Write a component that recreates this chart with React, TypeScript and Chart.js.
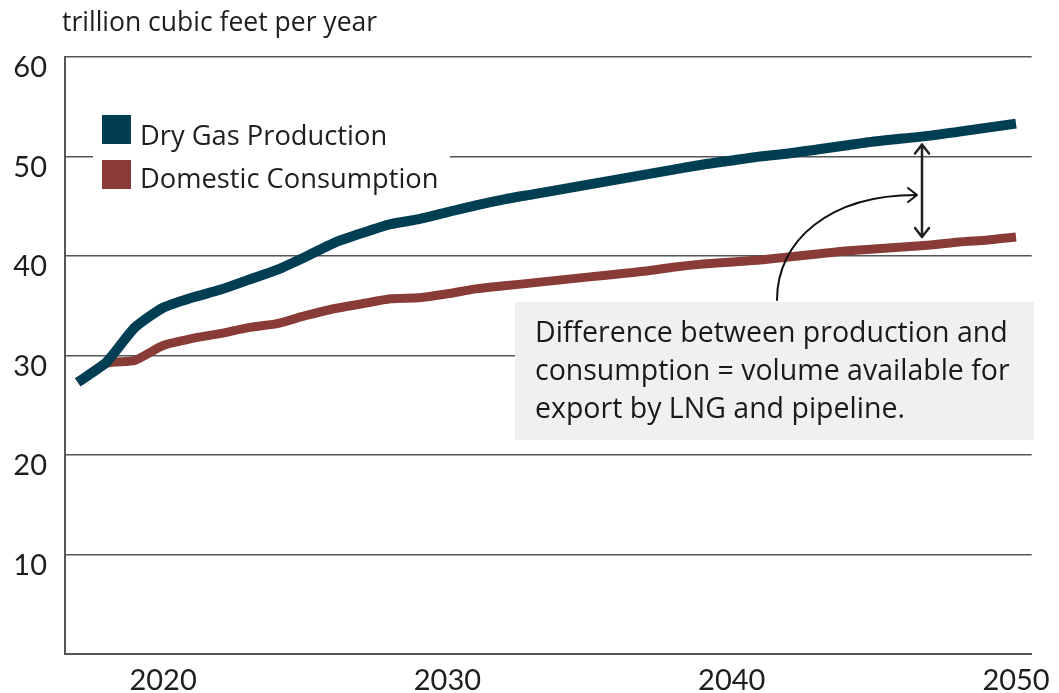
import React, { useEffect, useRef } from 'react';
import { Chart, registerables } from 'chart.js';

Chart.register(...registerables);

const years = [2017, 2018, 2019, 2020, 2021, 2022, 2023, 2024, 2025, 2026, 2027, 2028, 2029, 2030, 2031, 2032, 2033, 2034, 2035, 2036, 2037, 2038, 2039, 2040, 2041, 2042, 2043, 2044, 2045, 2046, 2047, 2048, 2049, 2050];
const dryGasProduction = [27.3, 29.3, 32.8, 34.8, 35.8, 36.6, 37.6, 38.6, 39.9, 41.3, 42.3, 43.2, 43.7, 44.4, 45.1, 45.7, 46.2, 46.7, 47.2, 47.7, 48.2, 48.7, 49.2, 49.6, 50.0, 50.3, 50.7, 51.1, 51.5, 51.8, 52.1, 52.5, 52.9, 53.3];
const domesticConsumption = [27.3, 29.2, 29.5, 31.0, 31.7, 32.2, 32.8, 33.2, 34.0, 34.7, 35.2, 35.7, 35.8, 36.2, 36.7, 37.0, 37.3, 37.6, 37.9, 38.2, 38.5, 38.9, 39.2, 39.4, 39.6, 39.9, 40.2, 40.5, 40.7, 40.9, 41.1, 41.4, 41.6, 41.9];
const xTickYears = [2020, 2030, 2040, 2050];
const yTickValues = [0, 10, 20, 30, 40, 50, 60];
const seriesNames = ['Dry Gas Production', 'Domestic Consumption'];
const seriesColors = ['#003e54', '#893b37'];
const unitLabel = 'trillion cubic feet per year';
const noteLines = [
  'Difference between production and',
  'consumption = volume available for',
  'export by LNG and pipeline.',
];

const FONT = 'Lato, "Open Sans", sans-serif';
const TEXT_FONT = '"Open Sans", Lato, sans-serif';

const overlay = {
  id: 'overlay',
  afterDraw(chart: any) {
    const ctx = chart.ctx as CanvasRenderingContext2D;
    ctx.save();
    // unit label
    ctx.fillStyle = '#1e1e1e';
    ctx.font = `26.5px ${TEXT_FONT}`;
    ctx.textBaseline = 'alphabetic';
    ctx.textAlign = 'left';
    ctx.fillText(unitLabel, 62, 31);

    // legend
    ctx.fillStyle = '#ffffff';
    ctx.fillRect(93, 105, 357, 95);
    const legY = [115, 160];
    const baseY = [145, 188];
    seriesNames.forEach((name, i) => {
      ctx.fillStyle = seriesColors[i];
      ctx.fillRect(102, legY[i], 29, 29);
      ctx.fillStyle = '#1e1e1e';
      ctx.font = `27.3px ${TEXT_FONT}`;
      ctx.fillText(name, 140, baseY[i]);
    });

    // annotation box
    ctx.fillStyle = '#eff0ef';
    ctx.fillRect(515, 302, 519, 138);
    ctx.fillStyle = '#1a1a1a';
    ctx.font = `28.5px ${TEXT_FONT}`;
    noteLines.forEach((t, i) => ctx.fillText(t, 535, 342 + i * 38));

    // double arrow between lines
    const xs = chart.scales.x;
    const ys = chart.scales.y;
    const ax = 922;
    const yr = xs.getValueForPixel(ax);
    const idx = years.findIndex((y) => y >= yr);
    const top = ys.getPixelForValue(dryGasProduction[idx]) + 9;
    const bot = ys.getPixelForValue(domesticConsumption[idx]) - 8;
    ctx.strokeStyle = '#222';
    ctx.lineWidth = 2.5;
    ctx.lineCap = 'round';
    ctx.lineJoin = 'round';
    ctx.beginPath();
    ctx.moveTo(ax, top);
    ctx.lineTo(ax, bot);
    ctx.moveTo(ax - 7, top + 9);
    ctx.lineTo(ax, top);
    ctx.lineTo(ax + 7, top + 9);
    ctx.moveTo(ax - 7, bot - 9);
    ctx.lineTo(ax, bot);
    ctx.lineTo(ax + 7, bot - 9);
    ctx.stroke();

    // curved arrow
    ctx.lineWidth = 2;
    ctx.strokeStyle = '#111';
    ctx.beginPath();
    ctx.moveTo(777, 300);
    ctx.bezierCurveTo(777, 240, 830, 195, 916, 195);
    ctx.stroke();
    ctx.beginPath();
    ctx.moveTo(908, 188);
    ctx.lineTo(917, 195);
    ctx.lineTo(908, 202);
    ctx.stroke();
    ctx.restore();
  },
};

export default function App() {
  const ref = useRef<HTMLCanvasElement>(null);
  useEffect(() => {
    document.body.style.margin = '0';
    const canvas = ref.current!;
    const chart = new Chart(canvas, {
      type: 'line',
      data: {
        datasets: [
          {
            label: seriesNames[0],
            data: years.map((y, i) => ({ x: y, y: dryGasProduction[i] })),
            borderColor: seriesColors[0],
            borderWidth: 10,
            pointRadius: 0,
            tension: 0.2,
            borderJoinStyle: 'round',
            borderCapStyle: 'butt',
          },
          {
            label: seriesNames[1],
            data: years.map((y, i) => ({ x: y, y: domesticConsumption[i] })),
            borderColor: seriesColors[1],
            borderWidth: 9,
            pointRadius: 0,
            tension: 0.2,
            borderJoinStyle: 'round',
            borderCapStyle: 'butt',
          },
        ],
      },
      options: {
        animation: false,
        responsive: false,
        maintainAspectRatio: false,
        layout: { padding: { top: 57, right: 21, left: 0, bottom: 0 } },
        plugins: { legend: { display: false }, tooltip: { enabled: false }, title: { display: false } },
        scales: {
          x: {
            type: 'linear',
            min: 2016.55,
            max: 2050.55,
            afterBuildTicks: (s: any) => {
              s.ticks = xTickYears.map((v) => ({ value: v }));
            },
            afterFit: (s: any) => {
              s.height = 39;
            },
            grid: { display: false, drawTicks: false },
            border: { display: true, color: '#555', width: 2 },
            ticks: {
              autoSkip: false,
              maxRotation: 0,
              padding: 9,
              color: '#1e1e1e',
              font: { family: FONT, size: 29 },
              callback: (v: any) => String(v),
            },
          },
          y: {
            type: 'linear',
            min: 0,
            max: 60,
            afterBuildTicks: (s: any) => {
              s.ticks = yTickValues.map((v) => ({ value: v }));
            },
            afterFit: (s: any) => {
              s.width = 65;
            },
            grid: { color: '#555', lineWidth: 1.5, drawTicks: false },
            border: { display: true, color: '#555', width: 2 },
            ticks: {
              padding: 18,
              labelOffset: 11,
              color: '#1e1e1e',
              font: { family: FONT, size: 29 },
              callback: (v: any) => (v === 0 ? '' : String(v)),
            },
          },
        },
      },
      plugins: [overlay],
    });
    return () => chart.destroy();
  }, []);
  return (
    <div style={{ width: 1059, height: 693 }}>
      <canvas ref={ref} width={1059} height={693} style={{ display: 'block' }} />
    </div>
  );
}
